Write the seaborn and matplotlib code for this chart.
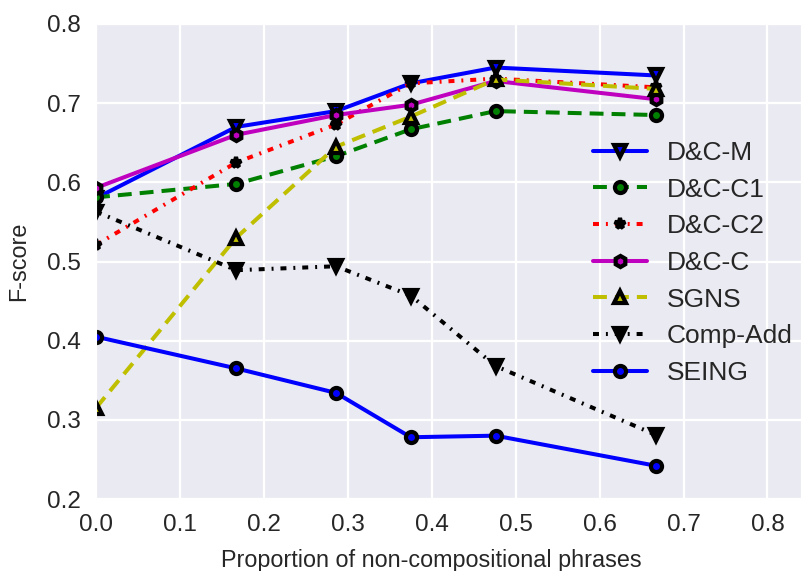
import numpy as np
import matplotlib
matplotlib.use("Agg")
import matplotlib.pyplot as plt
import seaborn as sns

# ----------------------------
# data
# ----------------------------
x_prop = [0.0, 0.167, 0.286, 0.375, 0.476, 0.667]

dc_m = [0.580, 0.670, 0.690, 0.725, 0.745, 0.735]
dc_c1 = [0.581, 0.598, 0.633, 0.667, 0.690, 0.685]
dc_c2 = [0.521, 0.625, 0.673, 0.725, 0.731, 0.720]
dc_c = [0.593, 0.660, 0.685, 0.698, 0.728, 0.705]
sgns = [0.315, 0.530, 0.645, 0.683, 0.730, 0.718]
comp_add = [0.563, 0.489, 0.494, 0.457, 0.368, 0.281]
seing = [0.405, 0.365, 0.334, 0.278, 0.280, 0.242]

labels = ["D&C-M", "D&C-C1", "D&C-C2", "D&C-C", "SGNS", "Comp-Add", "SEING"]

# ----------------------------
# style
# ----------------------------
sns.set_style("darkgrid", {"axes.facecolor": "#EAEAF2", "grid.color": "white"})
plt.rcParams['font.family'] = ['Liberation Sans', 'DejaVu Sans']
plt.rcParams['xtick.major.size'] = 2
plt.rcParams['ytick.major.size'] = 2
plt.rcParams['grid.linewidth'] = 1.6
plt.rcParams['lines.scale_dashes'] = False

fig = plt.figure(figsize=(8.01, 5.71), dpi=100)
ax = fig.add_axes([96 / 801, 1 - 499 / 571, 1 - 96 / 801, (499 - 24) / 571])

dashed = (0, (10, 5.8))
dashdot = (0, (4.3, 5, 1.4, 5))

series = [
    (dc_m, "b", "-", "v"),
    (dc_c1, "g", dashed, "o"),
    (dc_c2, "r", dashdot, "*"),
    (dc_c, "m", "-", "h"),
    (sgns, "y", dashed, "^"),
    (comp_add, "k", dashdot, "v"),
    (seing, "b", "-", "o"),
]

for (vals, col, ls, mk), lab in zip(series, labels):
    sns.lineplot(x=x_prop, y=vals, ax=ax, color=col, linestyle=ls, linewidth=2.9,
                 marker=mk, markersize=8, markeredgecolor="k", markeredgewidth=3,
                 markerfacecolor=col, label=lab)

ax.set_xlim(0, 0.84)
ax.set_ylim(0.2, 0.8)
ax.set_xticks(np.arange(0, 0.81, 0.1))
ax.set_yticks(np.arange(0.2, 0.81, 0.1))
ax.tick_params(axis="both", labelsize=17.5, colors="#262626", pad=9)
ax.set_xlabel("Proportion of non-compositional phrases", fontsize=16.8, color="#262626")
ax.set_ylabel("F-score", fontsize=16.8, color="#262626")
ax.xaxis.set_label_coords(0.475, -0.105)
ax.yaxis.set_label_coords(-0.094, 0.5)

ax.legend(loc="center left", bbox_to_anchor=(0.671, 0.497), frameon=False,
          numpoints=1, fontsize=19, handlelength=2.05, handletextpad=0.76,
          labelspacing=0.48)

fig.savefig("out.png", dpi=100)
